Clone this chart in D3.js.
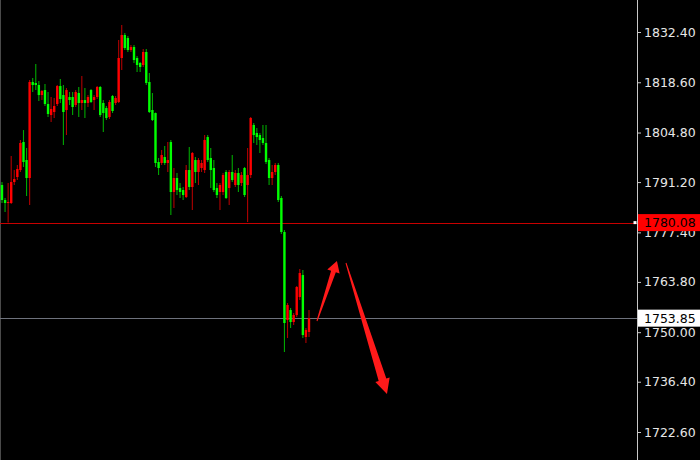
<!DOCTYPE html>
<html><head><meta charset="utf-8">
<script src="https://cdn.jsdelivr.net/npm/d3@7"></script>
<style>html,body{margin:0;padding:0;background:#000;}svg{display:block;}</style>
</head><body><div id="chart"></div>
<script>
const open=[1790.40,1786.28,1785.46,1785.46,1791.22,1792.59,1794.51,1802.20,1797.26,1792.32,
1818.67,1818.40,1817.85,1815.10,1816.47,1812.63,1809.61,1810.44,1812.63,1817.57,
1815.10,1810.98,1814.55,1814.55,1812.36,1815.65,1812.91,1813.73,1812.91,1816.47,
1813.73,1814.55,1817.30,1812.91,1811.53,1809.06,1814.83,1812.91,1813.18,1825.26,
1831.57,1830.75,1827.45,1828.28,1825.26,1823.89,1823.34,1826.91,1818.67,1810.98,
1810.16,1796.71,1796.44,1798.08,1796.44,1802.20,1788.48,1792.32,1789.57,1789.02,
1787.10,1794.51,1789.85,1797.26,1793.97,1795.06,1794.51,1803.57,1797.81,1795.06,
1789.57,1788.48,1788.48,1793.97,1789.57,1793.97,1790.40,1793.69,1790.95,1795.06,
1790.40,1793.14,1806.87,1804.67,1804.12,1803.30,1801.93,1797.26,1792.32,1793.97,
1795.89,1786.83,1777.50,1753.34,1756.08,1752.79,1754.71,1759.65,1765.69,1748.67,
1750.05];
const high=[1791.22,1786.83,1790.95,1798.36,1794.51,1795.89,1802.75,1805.49,1800.55,1819.22,
1819.77,1823.61,1818.95,1816.47,1818.12,1815.93,1814.55,1814.28,1817.85,1819.49,
1817.85,1817.02,1815.93,1815.93,1816.47,1817.30,1820.32,1817.02,1815.10,1816.75,
1815.10,1817.57,1817.57,1813.73,1812.08,1813.73,1815.10,1814.83,1830.20,1834.32,
1832.12,1831.30,1828.83,1828.83,1825.81,1824.16,1827.73,1827.73,1821.14,1815.65,
1810.30,1797.81,1800.00,1801.10,1802.20,1802.75,1795.06,1793.69,1790.95,1789.85,
1795.89,1800.83,1799.46,1798.08,1797.81,1797.26,1804.12,1804.12,1800.55,1797.26,
1790.95,1790.95,1793.69,1794.51,1794.51,1798.63,1794.51,1795.06,1793.97,1795.34,
1800.55,1809.06,1807.42,1806.04,1804.67,1806.87,1806.87,1797.81,1795.89,1796.44,
1796.44,1787.38,1778.04,1758.01,1756.63,1755.26,1762.67,1767.34,1767.06,1751.14,
1756.08];
const low=[1785.46,1782.99,1780.10,1785.18,1790.40,1791.77,1793.97,1795.34,1787.38,1784.91,
1815.93,1816.47,1813.46,1813.73,1812.08,1809.06,1807.69,1808.79,1812.08,1812.91,
1801.38,1804.12,1812.36,1809.61,1811.81,1809.06,1810.98,1808.79,1811.81,1812.91,
1810.98,1814.00,1809.06,1804.95,1808.24,1808.51,1810.16,1812.36,1812.91,1821.96,
1827.45,1826.91,1826.91,1823.89,1821.42,1821.42,1822.79,1817.85,1810.16,1808.00,
1795.34,1793.14,1795.89,1795.89,1793.97,1782.16,1784.08,1787.65,1786.83,1786.28,
1786.83,1789.02,1783.53,1790.95,1790.40,1793.97,1793.69,1796.71,1789.57,1788.48,
1786.83,1783.53,1787.65,1786.55,1784.91,1791.22,1789.85,1788.48,1790.12,1787.10,
1780.24,1792.32,1801.93,1801.38,1799.18,1801.38,1796.16,1790.40,1790.40,1793.14,
1785.73,1776.95,1744.56,1748.40,1751.14,1751.97,1754.16,1758.83,1748.40,1747.03,
1748.67];
const close=[1786.28,1785.46,1785.73,1791.22,1792.04,1794.79,1801.93,1796.71,1792.32,1818.67,
1817.85,1817.85,1815.10,1816.20,1812.63,1809.89,1811.26,1812.08,1817.57,1814.00,
1810.44,1816.47,1813.73,1811.81,1815.93,1812.91,1813.73,1812.91,1814.55,1813.18,
1814.55,1817.30,1809.61,1810.16,1808.79,1813.18,1810.71,1814.28,1825.26,1831.57,
1828.00,1827.45,1828.28,1824.71,1823.34,1822.79,1826.91,1818.40,1810.44,1808.24,
1796.44,1795.06,1798.63,1796.44,1797.26,1788.48,1792.32,1789.02,1788.48,1787.65,
1794.51,1789.85,1799.18,1793.97,1797.26,1796.44,1802.75,1797.26,1794.51,1789.02,
1787.65,1790.40,1793.14,1786.83,1793.97,1791.77,1793.69,1790.40,1793.14,1787.65,
1793.14,1808.79,1804.12,1803.57,1802.75,1801.93,1796.71,1792.32,1793.97,1795.89,
1786.28,1777.50,1752.52,1757.46,1752.79,1754.71,1762.40,1766.24,1749.22,1750.59,
1753.85];
const tickValues=[1832.40,1818.60,1804.80,1791.20,1777.40,1763.80,1750.00,1736.40,1722.60];
const levelRed=1780.08;
const levelBid=1753.85;
// annotation arrows: [barIndex, price]
const arrowUpFrom=[102.6,1753.07], arrowUpTo=[109.1,1769.54];
const arrowDownFrom=[112.05,1768.99], arrowDownTo=[125.4,1733.03];

const W=700,H=460,axisX=637;
const svg=d3.select("#chart").append("svg").attr("width",W).attr("height",H);
svg.append("rect").attr("width",W).attr("height",H).attr("fill","#000");

const x=d3.scaleLinear().domain([0,open.length-1]).range([2,309]);
const y=d3.scaleLinear().domain([1722.6,1832.4]).range([432,32]);

// left border
svg.append("line").attr("x1",0.5).attr("x2",0.5).attr("y1",0).attr("y2",H).attr("stroke","#4a4a4a");

// level lines
svg.append("line").attr("x1",0).attr("x2",axisX).attr("y1",Math.round(y(levelRed))+0.5).attr("y2",Math.round(y(levelRed))+0.5).attr("stroke","#c80000");
svg.append("line").attr("x1",0).attr("x2",axisX).attr("y1",Math.round(y(levelBid))+0.5).attr("y2",Math.round(y(levelBid))+0.5).attr("stroke","#6e727c");

const bars=open.map((o,i)=>({i,o,h:high[i],l:low[i],c:close[i]}));
const g=svg.append("g");
const up=d=>d.c>=d.o;
g.selectAll("line.wick").data(bars).join("line").attr("class","wick")
 .attr("x1",d=>x(d.i)).attr("x2",d=>x(d.i))
 .attr("y1",d=>y(d.h)).attr("y2",d=>y(d.l))
 .attr("stroke",d=>up(d)?"#b00000":"#00a800").attr("stroke-width",1.1);
g.selectAll("rect.body").data(bars).join("rect").attr("class","body")
 .attr("x",d=>x(d.i)-1.2).attr("width",2.4)
 .attr("y",d=>y(Math.max(d.o,d.c)))
 .attr("height",d=>Math.max(1,Math.abs(y(d.o)-y(d.c))))
 .attr("fill",d=>up(d)?"#ff0000":"#00ff00");

// arrows
function arrowPts(a,b,w0,w1,hw,hl){
  const p0=[x(a[0]),y(a[1])],p1=[x(b[0]),y(b[1])];
  const dx=p1[0]-p0[0],dy=p1[1]-p0[1],L=Math.hypot(dx,dy);
  const u=[dx/L,dy/L],n=[-u[1],u[0]];
  const B=[p1[0]-u[0]*hl,p1[1]-u[1]*hl];
  const P=(p,k)=>[p[0]+n[0]*k,p[1]+n[1]*k];
  return [P(p0,w0/2),P(B,w1/2),P(B,hw/2),p1,P(B,-hw/2),P(B,-w1/2),P(p0,-w0/2)];
}
svg.append("polygon").attr("points",arrowPts(arrowUpFrom,arrowUpTo,1,5,13,11).map(p=>p.join(",")).join(" ")).attr("fill","#ff1a1a");
svg.append("polygon").attr("points",arrowPts(arrowDownFrom,arrowDownTo,1,8,15,15).map(p=>p.join(",")).join(" ")).attr("fill","#ff1a1a");

// axis
const axis=d3.axisRight(y).tickValues(tickValues).tickFormat(d=>d.toFixed(2)).tickSize(4).tickSizeOuter(0).tickPadding(3);
const ag=svg.append("g").attr("transform",`translate(${axisX},0)`).call(axis);
ag.select(".domain").remove();
ag.selectAll(".tick line").attr("stroke","#c8c8c8");
ag.selectAll(".tick text").attr("fill","#e6e6e6").style("font-family","'DejaVu Sans'").style("font-size","12.5px");
svg.append("line").attr("x1",axisX+0.5).attr("x2",axisX+0.5).attr("y1",0).attr("y2",H).attr("stroke","#c8c8c8");

// price boxes
function priceBox(v,bg){
  const yy=y(v);
  svg.append("rect").attr("x",axisX+1).attr("y",yy-8.5).attr("width",W-axisX-1).attr("height",17).attr("fill",bg);
  svg.append("text").attr("x",axisX+7).attr("y",yy).attr("dy","0.36em").attr("fill","#000")
    .style("font-family","'DejaVu Sans'").style("font-size","12.5px").text(v.toFixed(2));
}
priceBox(levelRed,"#ff0000");
priceBox(levelBid,"#ffffff");
svg.append("rect").attr("x",axisX-3.5).attr("y",y(levelRed)-1.5).attr("width",3).attr("height",3).attr("fill","#fff");
</script></body></html>
